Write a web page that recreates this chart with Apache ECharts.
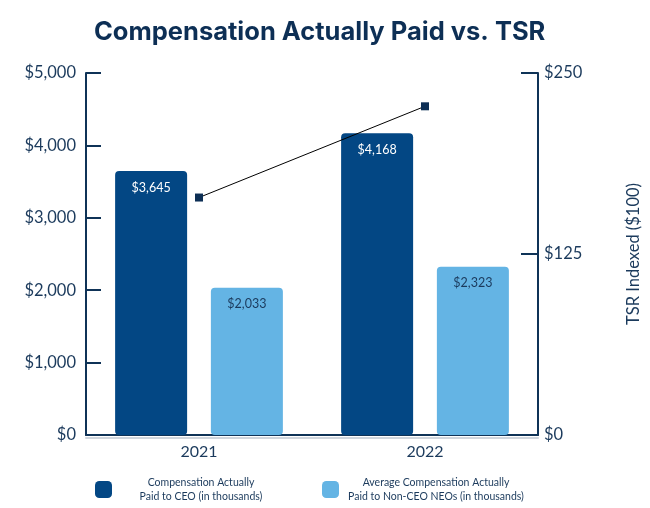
<!DOCTYPE html>
<html><head><meta charset="utf-8">
<script src="https://cdn.jsdelivr.net/npm/echarts@6/dist/echarts.min.js"></script>
<style>html,body{margin:0;padding:0;background:#fff}#c{width:650px;height:508px}</style>
</head><body><div id="c"></div>
<script>
const years = ['2021', '2022'];
const ceoPay = [3645, 4168];
const neoPay = [2033, 2323];
const tsr = [164, 227];
const leftTicks = [0, 5000, 1000];
const rightTicks = [0, 250, 125];
const ceoName = 'Compensation Actually\nPaid to CEO (in thousands)';
const neoName = 'Average Compensation Actually\nPaid to Non-CEO NEOs (in thousands)';

const navy = '#0f3357';
const fmt = v => '$' + Number(v).toLocaleString('en-US');
const font = 'Lato, "Open Sans", sans-serif';
const chart = echarts.init(document.getElementById('c'));
chart.setOption({
  animation: false,
  title: { text: 'Compensation Actually Paid vs. TSR', left: 89, top: 14,
    textStyle: { fontFamily: 'Inter, "Open Sans", sans-serif', fontWeight: 'bold', fontSize: 25.5, color: '#0d2f55' } },
  grid: { left: 86, right: 107, top: 73, bottom: 73 },
  legend: {
    left: 90, top: 472, itemWidth: 17, itemHeight: 17, itemGap: 37,
    icon: 'roundRect',
    data: [ceoName, neoName],
    formatter: n => n.split('\n').map(s => (n === ceoName ? '{a|' : '{b|') + s + '}').join('\n'),
    textStyle: { fontFamily: font, fontSize: 10.5, color: '#1b3a5c',
      rich: { a: { width: 168, align: 'center', lineHeight: 14, fontSize: 10.5, fontFamily: font, color: '#1b3a5c' },
              b: { width: 184, align: 'center', lineHeight: 14, fontSize: 10.5, fontFamily: font, color: '#1b3a5c' } } }
  },
  xAxis: {
    type: 'category', data: years,
    axisLine: { lineStyle: { color: navy, width: 2, shadowColor: '#d0d6dd', shadowOffsetY: 3, shadowBlur: 0 } },
    axisTick: { inside: true, length: 16, lineStyle: { color: navy, width: 2 } },
    axisLabel: { fontFamily: font, fontSize: 16, color: '#1b3a5c', margin: 9 }
  },
  yAxis: [
    { type: 'value', min: leftTicks[0], max: leftTicks[1], interval: leftTicks[2],
      axisLine: { show: true, lineStyle: { color: navy, width: 2 } },
      axisTick: { show: true, inside: true, length: 15, lineStyle: { color: navy, width: 2 } },
      splitLine: { show: false },
      axisLabel: { formatter: fmt, fontFamily: font, fontSize: 16.5, color: '#1b3a5c', margin: 10 } },
    { type: 'value', min: rightTicks[0], max: rightTicks[1], interval: rightTicks[2], position: 'right',
      name: 'TSR Indexed ($100)', nameLocation: 'middle', nameRotate: 90, nameGap: 87,
      nameTextStyle: { fontFamily: font, fontSize: 16.5, color: '#1b3a5c' },
      axisLine: { show: true, lineStyle: { color: navy, width: 2 } },
      axisTick: { show: true, inside: true, length: 17, lineStyle: { color: navy, width: 2 } },
      splitLine: { show: false },
      axisLabel: { formatter: fmt, fontFamily: font, fontSize: 16.5, color: '#1b3a5c', margin: 6 } }
  ],
  series: [
    { name: ceoName, type: 'bar', data: ceoPay, barWidth: 72, barGap: '33%',
      itemStyle: { color: '#034784', borderRadius: 4 },
      label: { show: true, position: 'insideTop', distance: 10, formatter: p => fmt(p.value),
        fontFamily: font, fontSize: 12.5, color: '#ffffff' } },
    { name: neoName, type: 'bar', data: neoPay, barWidth: 72,
      itemStyle: { color: '#64b4e4', borderRadius: 4 },
      label: { show: true, position: 'insideTop', distance: 10, formatter: p => fmt(p.value),
        fontFamily: font, fontSize: 12.5, color: '#1b3a5c' } },
    { name: 'TSR', type: 'line', yAxisIndex: 1, data: tsr, symbol: 'rect', symbolSize: 8,
      lineStyle: { color: '#000', width: 1 }, itemStyle: { color: '#0d2f55' }, z: 5 }
  ]
});
</script></body></html>
